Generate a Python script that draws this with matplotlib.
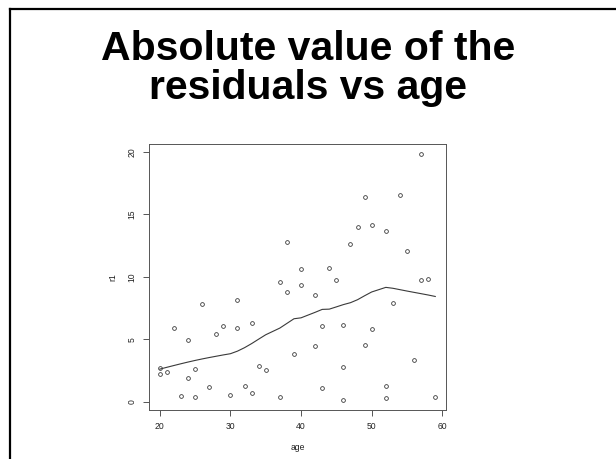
import numpy as np
import matplotlib
matplotlib.use("Agg")
import matplotlib.pyplot as plt
from matplotlib.lines import Line2D

# Absolute residuals by age
age = [20, 20, 21, 22, 23, 24, 24, 25, 25, 26, 27, 28, 29, 30, 31, 31, 32, 33, 33,
       34, 35, 37, 37, 38, 38, 39, 40, 40, 42, 42, 43, 43, 44, 45, 46, 46, 46, 47,
       48, 49, 49, 50, 50, 52, 52, 52, 53, 54, 55, 56, 57, 57, 58, 59]
r1 = [2.72, 2.22, 2.35, 5.92, 0.48, 4.91, 1.90, 2.64, 0.35, 7.79, 1.20, 5.39, 6.03,
      0.56, 8.14, 5.87, 1.26, 6.32, 0.70, 2.88, 2.54, 9.60, 0.40, 12.80, 8.80, 3.79,
      10.64, 9.34, 8.51, 4.46, 6.08, 1.10, 10.70, 9.74, 6.16, 2.80, 0.16, 12.59,
      13.98, 16.40, 4.54, 14.16, 5.82, 13.68, 1.28, 0.32, 7.90, 16.50, 12.08, 3.34,
      19.80, 9.76, 9.82, 0.38]

title_lines = ["Absolute value of the", "residuals vs age"]
x_ticks = [20, 30, 40, 50, 60]
y_ticks = [0, 5, 10, 15, 20]
smoother_span = 0.45


def _lowest(x, y, xs, nleft, nright, w, userw, rw):
    n = len(x)
    rng = x[-1] - x[0]
    h = max(xs - x[nleft], x[nright] - xs)
    h9, h1 = 0.999 * h, 0.001 * h
    a = 0.0
    j = nleft
    while j < n:
        w[j] = 0.0
        r = abs(x[j] - xs)
        if r <= h9:
            w[j] = 1.0 if r <= h1 else (1 - (r / h) ** 3) ** 3
            if userw:
                w[j] *= rw[j]
            a += w[j]
        elif x[j] > xs:
            break
        j += 1
    nrt = j - 1
    if a <= 0:
        return None
    sl = slice(nleft, nrt + 1)
    w[sl] /= a
    if h > 0:
        a = np.sum(w[sl] * x[sl])
        b = xs - a
        c = np.sum(w[sl] * (x[sl] - a) ** 2)
        if np.sqrt(c) > 0.001 * rng:
            b /= c
            w[sl] *= b * (x[sl] - a) + 1
    return np.sum(w[sl] * y[sl])


def lowess(x, y, f=2 / 3, iters=3):
    """Robust locally weighted regression (Cleveland's lowess)."""
    order = np.argsort(x, kind="stable")
    x = np.asarray(x, float)[order]
    y = np.asarray(y, float)[order]
    n = len(x)
    ns = max(min(int(f * n + 1e-7), n), 2)
    delta = 0.01 * (x[-1] - x[0])
    ys = np.zeros(n)
    rw = np.ones(n)
    w = np.zeros(n)
    for it in range(iters + 1):
        nleft, nright, last, i = 0, ns - 1, -1, 0
        while True:
            while nright < n - 1:
                if x[i] - x[nleft] <= x[nright + 1] - x[i]:
                    break
                nleft += 1
                nright += 1
            val = _lowest(x, y, x[i], nleft, nright, w, it > 0, rw)
            ys[i] = y[i] if val is None else val
            if last < i - 1:
                denom = x[i] - x[last]
                for j in range(last + 1, i):
                    alpha = (x[j] - x[last]) / denom
                    ys[j] = alpha * ys[i] + (1 - alpha) * ys[last]
            last = i
            cut = x[last] + delta
            i = last + 1
            while i < n:
                if x[i] > cut:
                    break
                if x[i] == x[last]:
                    ys[i] = ys[last]
                    last = i
                i += 1
            i = max(last + 1, i - 1)
            if last >= n - 1:
                break
        res = y - ys
        if it == iters:
            break
        ar = np.abs(res)
        cmad = 6 * np.median(ar)
        if cmad < 1e-7 * np.mean(np.abs(y)):
            break
        c9, c1 = 0.999 * cmad, 0.001 * cmad
        rw = np.where(ar <= c1, 1.0,
                      np.where(ar <= c9, (1 - (ar / cmad) ** 2) ** 2, 0.0))
    return x, ys


W, H = 616, 459
fig = plt.figure(figsize=(W / 100, H / 100), dpi=100)
fig.patch.set_facecolor("white")

# slide frame (top and left edges)
fig.add_artist(Line2D([10 / W, 1.0], [1 - 9 / H, 1 - 9 / H], color="black",
                      lw=1.6, transform=fig.transFigure))
fig.add_artist(Line2D([10 / W, 10 / W], [1 - 9 / H, 0.0], color="black",
                      lw=1.6, transform=fig.transFigure))

title_font = dict(family="Liberation Sans", weight="bold", size=29.5,
                  ha="center", va="baseline", color="black")
fig.text(0.5, 1 - 59.7 / H, title_lines[0], **title_font)
fig.text(0.5, 1 - 99 / H, title_lines[1], **title_font)

ax = fig.add_axes([148.7 / W, 1 - 409.7 / H, 297.6 / W, 265.4 / H])
ink = "#3a3a3a"
ax.plot(age, r1, linestyle="none", marker="o", markersize=2.7,
        markerfacecolor="none", markeredgecolor=ink, markeredgewidth=0.6)
lx, ly = lowess(age, r1, f=smoother_span)
ax.plot(lx, ly, color=ink, lw=0.8)

xr = max(age) - min(age)
yr = max(r1) - min(r1)
ax.set_xlim(min(age) - 0.04 * xr, max(age) + 0.04 * xr)
ax.set_ylim(min(r1) - 0.04 * yr, max(r1) + 0.04 * yr)

ax.set_xticks(x_ticks)
ax.set_yticks(y_ticks)
ax.set_xticklabels([str(t) for t in x_ticks])
ax.set_yticklabels([str(t) for t in y_ticks], rotation=90, va="center")
ax.tick_params(axis="both", length=4.3, width=0.6, color=ink, labelsize=6.2,
               labelcolor="#222222", pad=4.5)
for lab in ax.get_xticklabels() + ax.get_yticklabels():
    lab.set_family("Liberation Sans")
for s in ax.spines.values():
    s.set_color("#555555")
    s.set_linewidth(0.7)

ax.set_xlabel("age", family="Liberation Sans", size=6.2, color="#222222", va="center")
ax.set_ylabel("r1", family="Liberation Sans", size=6.2, color="#222222", va="center")
ax.xaxis.set_label_coords(0.5, (409.7 - 447.7) / 265.4)
ax.yaxis.set_label_coords((113 - 148.7) / 297.6, 0.5)

fig.savefig("out.png", dpi=100, facecolor="white")
